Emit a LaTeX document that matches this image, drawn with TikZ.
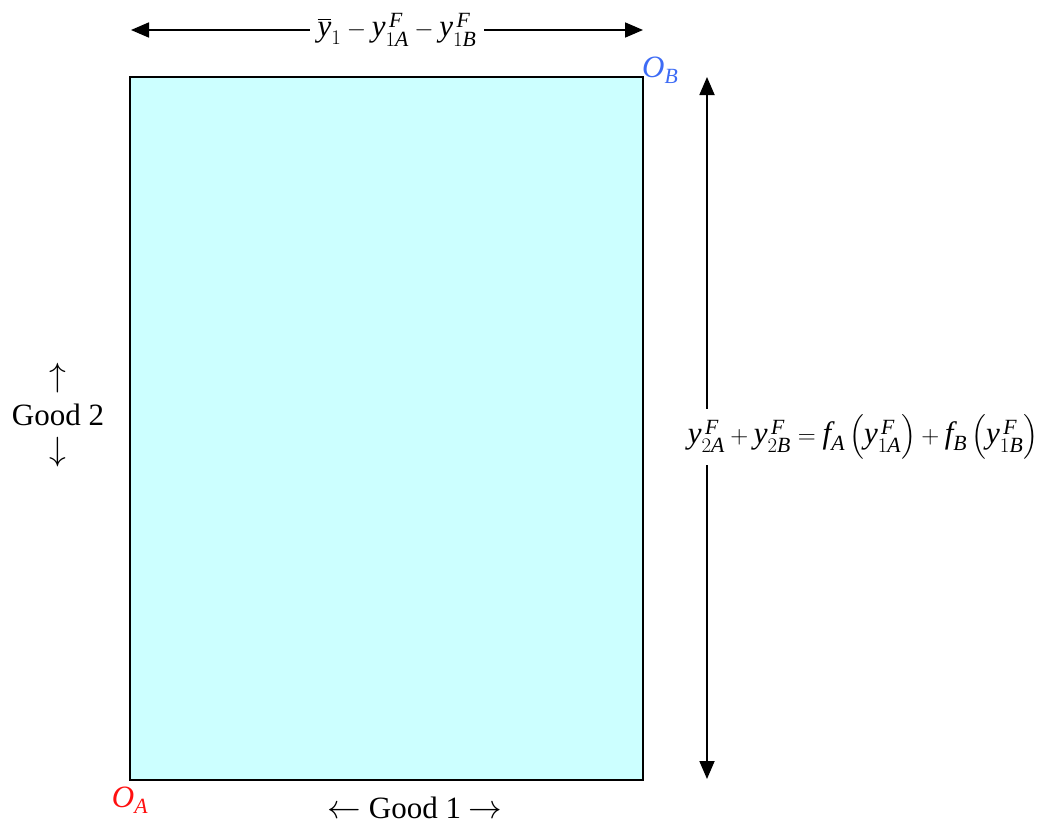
\documentclass[tikz,border=0pt]{standalone}
\usepackage{amsmath}
\usepackage{graphicx}
\usepackage{fontspec}
\setmainfont{Liberation Serif}
\usetikzlibrary{arrows.meta}
\definecolor{boxfill}{HTML}{CCFFFF}
\definecolor{obblue}{HTML}{3D6BF5}
\definecolor{oared}{HTML}{FF1010}
\newcommand{\iy}{\textit{y}}
\newcommand{\iF}{\,\textit{F}}
\newcommand{\bigarr}[1]{\scalebox{1.35}{$#1$}}
\begin{document}
\begin{tikzpicture}[x=1pt,y=-1pt,
  lbl/.style={font=\fontsize{31}{34}\selectfont, inner sep=2pt},
  dimarrow/.style={line width=1.8pt, {Triangle[length=18pt,width=15pt]}-{Triangle[length=18pt,width=15pt]}}]
\useasboundingbox (0,0) rectangle (1061,830);
\draw[fill=boxfill, line width=1.6pt] (130,77) rectangle (643,780);
\coordinate (tl) at (131,30);
\coordinate (tr) at (643,30);
\coordinate (rt) at (707,77);
\coordinate (rb) at (707,779);
\draw[dimarrow] (tl) -- (tr);
\draw[dimarrow] (rt) -- (rb);
\node[lbl, fill=white, inner xsep=8pt] (top) at (397,30) {$\overline{\iy}_{1} - \iy^{\iF}_{1\textit{A}} - \iy^{\iF}_{1\textit{B}}$};
\node[lbl, fill=white, inner ysep=6pt] (right) at (863,437) {$\iy^{\iF}_{2\textit{A}} + \iy^{\iF}_{2\textit{B}} = \textit{f}_{\textit{A}}\,\Bigl(\iy^{\iF}_{1\textit{A}}\Bigr) + \textit{f}_{\textit{B}}\,\Bigl(\iy^{\iF}_{1\textit{B}}\Bigr)$};
\node[lbl, text=obblue, anchor=west] (ob) at (640,70) {\textit{O}$_{\textit{B}}$};
\node[lbl, text=oared] (oa) at (130,800) {\textit{O}$_{\textit{A}}$};
\node[lbl] (g2) at (58,415) {Good 2};
\node[lbl] (g2u) at (58,378) {\bigarr{\uparrow}};
\node[lbl] (g2d) at (58,452) {\bigarr{\downarrow}};
\node[lbl] (g1) at (415,808) {\bigarr{\leftarrow} Good 1 \bigarr{\rightarrow}};
\end{tikzpicture}
\end{document}
